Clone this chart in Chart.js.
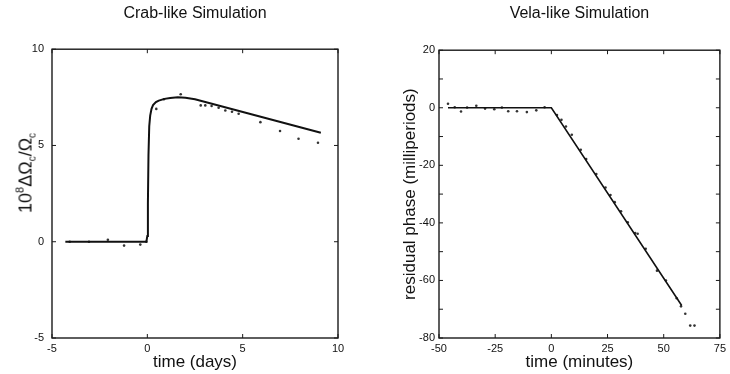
<!DOCTYPE html>
<html>
<head>
<meta charset="utf-8">
<script src="https://cdn.jsdelivr.net/npm/chart.js@4/dist/chart.umd.min.js"></script>
<style>
  html, body { margin: 0; padding: 0; background: #fff; }
  #wrap { position: relative; width: 730px; height: 374px; overflow: hidden; font-family: "Liberation Sans", Arial, Helvetica, sans-serif; }
  canvas { position: absolute; top: 0; }
  #c1 { left: 0; }
  #c2 { left: 365px; }
  #ylab1 {
    position: absolute; left: 26px; top: 173px;
    transform: translate(-50%, -50%) rotate(-90deg);
    white-space: nowrap; font-size: 18px; color: #111; line-height: 1;
  }
  #ylab1 sup { font-size: 11px; vertical-align: 8px; }
  #ylab1 sub { font-size: 10px; vertical-align: -4px; }
</style>
</head>
<body>
<div id="wrap">
  <canvas id="c1" width="365" height="374"></canvas>
  <canvas id="c2" width="365" height="374"></canvas>
  <div id="ylab1">10<sup>8</sup>ΔΩ<sub>c</sub>/Ω<sub>c</sub></div>
</div>
<script>
// ---------- Crab-like simulation ----------
const crabXTicks = [-5, 0, 5, 10];
const crabYTicks = [-5, 0, 5, 10];
const crabLineX = [-4.3, -0.05, 0.0, 0.03, 0.06, 0.1, 0.15, 0.22, 0.3, 0.45, 0.6, 0.9, 1.2, 1.6, 2.0, 2.5, 9.1];
const crabLineY = [0, 0, 0.3, 2.0, 4.5, 6.0, 6.55, 6.9, 7.1, 7.25, 7.33, 7.42, 7.47, 7.5, 7.48, 7.4, 5.66];
const crabPtX = [-4.07, -3.06, -2.07, -1.22, -0.37, -0.05, 0.47, 0.87, 1.75, 2.8, 3.04, 3.37, 3.74, 4.09, 4.44, 4.79, 5.93, 6.96, 7.93, 8.95];
const crabPtY = [0, 0, 0.1, -0.2, -0.15, 0, 6.9, 7.4, 7.66, 7.08, 7.08, 7.05, 6.96, 6.82, 6.75, 6.65, 6.21, 5.75, 5.35, 5.14];

// ---------- Vela-like simulation ----------
const velaXTicks = [-50, -25, 0, 25, 50, 75];
const velaYTicks = [-80, -60, -40, -20, 0, 20];
const velaYMinor = [-70, -50, -30, -10, 10];
const velaLineX = [-46, 0, 58];
const velaLineY = [0, 0, -68.7];
const velaPtX = [-46, -43, -40.2, -37.5, -33.4, -29.5, -25.4, -22, -19.2, -15.3, -10.9, -6.7, -3, 2.5, 4.5, 6.5, 9.1, 13.1, 15.5, 20, 24.1, 26.3, 28.2, 31, 34.0, 37.3, 38.4, 42, 47, 51, 55.8, 57.7, 59.6, 61.8, 63.7];
const velaPtY = [1.4, 0.2, -1.3, 0.1, 0.7, -0.3, -0.5, 0.1, -1.2, -1.2, -1.5, -0.9, 0.2, -2.5, -4.2, -6.5, -9.4, -14.6, -17.8, -23, -27.7, -30.3, -32.8, -36, -39.8, -43.5, -43.8, -49, -56.6, -60, -66.2, -69, -71.6, -75.7, -75.7];

const FONT = '"Liberation Sans", Arial, Helvetica, sans-serif';
const TXT = '#111';
const zip = (xs, ys) => xs.map((x, i) => ({ x: x, y: ys[i] }));

const framePlugin = {
  id: 'frame',
  afterDraw(chart, args, opts) {
    const ctx = chart.ctx, a = chart.chartArea;
    const xs = chart.scales.x, ys = chart.scales.y;
    ctx.save();
    ctx.strokeStyle = '#1a1a1a';
    ctx.lineWidth = 1.4;
    ctx.strokeRect(a.left, a.top, a.right - a.left, a.bottom - a.top);
    ctx.lineWidth = 1;
    const L = 4;
    ctx.beginPath();
    (opts.xMajor || []).forEach(v => {
      const p = xs.getPixelForValue(v);
      ctx.moveTo(p, a.bottom); ctx.lineTo(p, a.bottom - L);
      ctx.moveTo(p, a.top); ctx.lineTo(p, a.top + L);
    });
    (opts.yMajor || []).concat(opts.yMinor || []).forEach(v => {
      const p = ys.getPixelForValue(v);
      ctx.moveTo(a.left, p); ctx.lineTo(a.left + L, p);
      ctx.moveTo(a.right, p); ctx.lineTo(a.right - L, p);
    });
    ctx.stroke();
    ctx.restore();
  }
};

function makeChart(id, cfg) {
  return new Chart(document.getElementById(id), {
    type: 'scatter',
    data: {
      datasets: [
        {
          type: 'line',
          data: zip(cfg.lineX, cfg.lineY),
          borderColor: '#111',
          borderWidth: cfg.lineW,
          pointRadius: 0,
          tension: 0,
          fill: false,
          order: 1
        },
        {
          data: zip(cfg.ptX, cfg.ptY),
          backgroundColor: '#333',
          borderColor: '#333',
          borderWidth: 0,
          pointRadius: 1.3,
          order: 2
        }
      ]
    },
    options: {
      responsive: false,
      animation: false,
      events: [],
      layout: { padding: { left: cfg.padLeft, right: cfg.padRight, top: 0, bottom: 0 } },
      plugins: {
        legend: { display: false },
        tooltip: { enabled: false },
        title: {
          display: true,
          text: cfg.title,
          fullSize: false,
          color: TXT,
          font: { family: FONT, size: 16, weight: 'normal', lineHeight: 1.2 },
          padding: { top: 4, bottom: cfg.titleBottom }
        },
        frame: { xMajor: cfg.xTicks, yMajor: cfg.yTicks, yMinor: cfg.yMinor }
      },
      scales: {
        x: {
          type: 'linear',
          min: cfg.xTicks[0], max: cfg.xTicks[cfg.xTicks.length - 1],
          afterBuildTicks: s => { s.ticks = cfg.xTicks.map(v => ({ value: v })); },
          afterFit: s => { s.height = 36; },
          grid: { display: false, drawTicks: false },
          border: { display: false },
          ticks: { color: TXT, padding: 4, maxRotation: 0, font: { family: FONT, size: 11 } },
          title: {
            display: true, text: cfg.xTitle, color: TXT,
            font: { family: FONT, size: 17, lineHeight: 1.2 },
            padding: { top: 0, bottom: 1 }
          }
        },
        y: {
          type: 'linear',
          min: cfg.yTicks[0], max: cfg.yTicks[cfg.yTicks.length - 1],
          afterBuildTicks: s => { s.ticks = cfg.yTicks.map(v => ({ value: v })); },
          afterFit: s => { s.width = cfg.yWidth; },
          grid: { display: false, drawTicks: false },
          border: { display: false },
          ticks: { color: TXT, padding: cfg.yTickPad, font: { family: FONT, size: 11 } },
          title: {
            display: !!cfg.yTitle, text: cfg.yTitle || '', color: TXT,
            font: { family: FONT, size: 17, lineHeight: 1.2 },
            padding: { top: 0, bottom: 0 }
          }
        }
      }
    },
    plugins: [framePlugin]
  });
}

makeChart('c1', {
  title: 'Crab-like Simulation', titleBottom: 26,
  xTitle: 'time (days)', yTitle: null,
  xTicks: crabXTicks, yTicks: crabYTicks, yMinor: [],
  lineX: crabLineX, lineY: crabLineY, ptX: crabPtX, ptY: crabPtY,
  lineW: 2, padLeft: 0, padRight: 27, yWidth: 52, yTickPad: 8
});

makeChart('c2', {
  title: 'Vela-like Simulation', titleBottom: 27,
  xTitle: 'time (minutes)', yTitle: 'residual phase (milliperiods)',
  xTicks: velaXTicks, yTicks: velaYTicks, yMinor: velaYMinor,
  lineX: velaLineX, lineY: velaLineY, ptX: velaPtX, ptY: velaPtY,
  lineW: 1.6, padLeft: 35, padRight: 7, yWidth: 39, yTickPad: 4
});
</script>
</body>
</html>
